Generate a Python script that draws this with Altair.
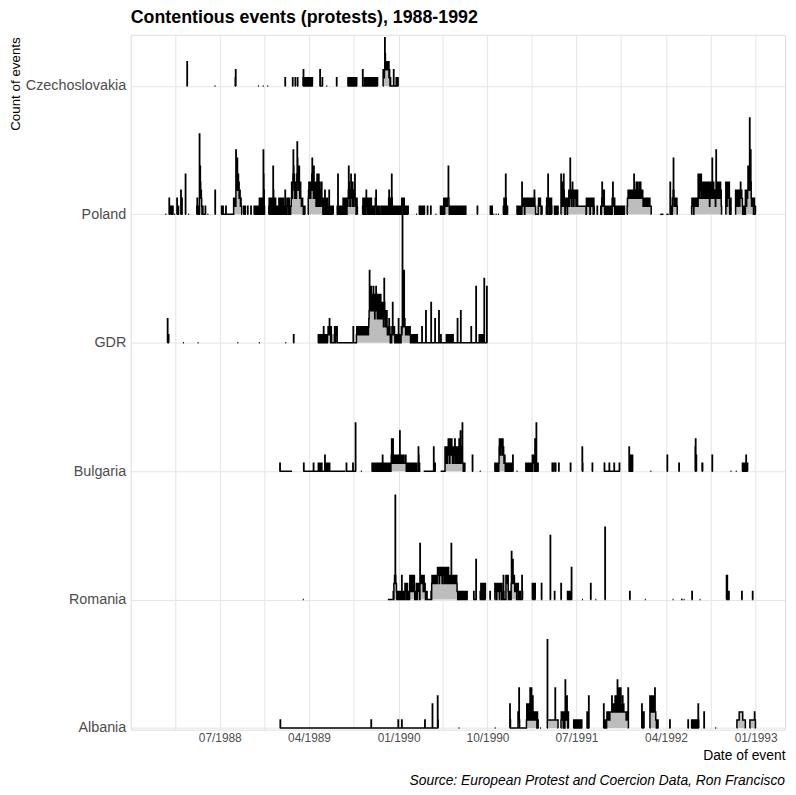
import altair as alt
import pandas as pd
from datetime import date, timedelta, datetime

# ---------------------------------------------------------------------------
# Data: daily counts of contentious events.
# Each run = (first day, daily counts written as base-36 digits, spaces ignored)
# Each span = (first day, last day) where the ridge sits on zero between runs.
# ---------------------------------------------------------------------------
COUNTRIES = ["Czechoslovakia", "Poland", "GDR", "Bulgaria", "Romania", "Albania"]
OFFSETS = {"Czechoslovakia": 80, "Poland": 64, "GDR": 48, "Bulgaria": 32, "Romania": 16, "Albania": 0}

CZ_RUNS = [
    ("1988-03-23", "3"), ("1988-06-16", "00"), ("1988-08-17", "012"),
    ("1988-10-27", "00"), ("1988-11-11", "00"), ("1988-11-25", "00"),
    ("1989-01-18", "1"), ("1989-02-10", "1"), ("1989-02-18", "1"), ("1989-02-25", "1"),
    ("1989-03-14", "1200101101 1010110101 1010110110"),
    ("1989-05-05", "20000001"), ("1989-05-25", "00"), ("1989-06-25", "1"),
    ("1989-07-30", "1011001011 0100110101 1001101"),
    ("1989-09-13", "2000001011 0100110101 1001011010 1101100110 101011"),
    ("1989-11-15", "2121264323 3232322312 1010000000 0020000000 1000010"),
]
CZ_SPANS = []

PL_RUNS = [
    ("1988-01-17", "00"), ("1988-01-28", "2"), ("1988-02-02", "10100110"), ("1988-02-13", "00"),
    ("1988-02-21", "210110"), ("1988-03-04", "3002"), ("1988-03-18", "5"), ("1988-03-27", "00"),
    ("1988-04-22", "12101100 a 4642321011 0000000 1"), ("1988-05-25", "00"), ("1988-06-17", "3"),
    ("1988-07-07", "1000100000 0001000000 0000000000 0000000 2122121867 3754534223 21211"),
    ("1988-09-13", "10101"), ("1988-09-25", "1"), ("1988-10-05", "1"),
    ("1988-10-15", "10110010101 0000 12102101201 00 853 10"),
    ("1988-11-29", "12101211021 10 6 3 0 1 210210110 0100 1201120102110121 0010 3 0101 12110212101 01"),
    ("1989-02-05", "1243235864 5323442359 7463563234 2212121101 001"),
    ("1989-03-30", "2342343243 4574342643 2432142531 4253142121 3412102112 0311012021 0110310100 1100011"),
    ("1989-06-27", "10510011 000010000 120110210112011123 642312352321423123252110121"),
    ("1989-09-13", "1210121102 1321012110 1210112101 0011001012 1310101000 1000001011 0010100110 "
                   "1100001001 2310121025 2101011011 0101101101 1011010110 2122101210 1011010111"),
    ("1990-02-25", "00"), ("1990-03-06", "1010011010010101"), ("1990-03-31", "1"),
    ("1990-04-10", "1"), ("1990-04-25", "00"),
    ("1990-05-10", "1011010110 2101122122 1222621011 0101101010 1101001011 0101011001 0101100101 01100101"),
    ("1990-08-31", "1"), ("1990-10-10", "1011010"), ("1990-10-20", "00"), ("1990-10-27", "00"),
    ("1990-11-03", "00"), ("1990-11-19", "1021101521011"),
    ("1990-12-31", "1011010110 1011042112 1210211212 2212212221 2212221222 2123211000 0000012112 1211011"),
    ("1991-03-31", "12101521101201121"), ("1991-04-25", "10110010101"),
    ("1991-05-15", "5321342153 2102122120 1212321273 2321242321 3232231232 3 "
                   "1111111111111111111111111 1021212112 1210211221 121021"),
    ("1991-09-03", "1"),
    ("1991-09-14", "1012421313 3101000100 1011011011 1001021421 2120000100 1101110111 0111011011101"),
    ("1991-12-04", "1223223223 2232233223 2532322342 3243232342 3432323321 1211212112 1121112112 1111"),
    ("1992-03-15", "000000000"), ("1992-04-03", "000000"),
    ("1992-04-13", "04210010123732122122121"),
    ("1992-06-19", "1211210121 1212112121 5345235435 2342434243 4234324342 3423412342 3237234423 "
                   "2321283234 3423432342 31"),
    ("1992-10-02", "4341244342410102"),
    ("1992-11-01", "3231232313 2312343232 2100010010 3231322363 435c838421 21121012111"),
]
PL_SPANS = []

GDR_RUNS = [
    ("1988-01-23", "3111"), ("1988-03-11", "00"), ("1988-04-25", "00"), ("1988-08-25", "00"),
    ("1988-10-30", "00"), ("1989-01-19", "00"), ("1989-02-13", "1"),
    ("1989-04-30", "1011011011 0110112101 1011011011 2121312102 10"),
    ("1989-06-18", "1210121120"), ("1989-08-15", "2"),
    ("1989-08-25", "1211211211 2121121221 1221212212 2212221234 9564575646 5674563564 7546354653 "
                   "6453645345 4352485342 3234212121 3121011012 1521122101 0101100103 1011010121 "
                   "2g42329232 2122122122 1221210101 1011010101 1010011"),
    ("1990-03-14", "2"), ("1990-03-26", "4"), ("1990-04-11", "5"), ("1990-04-23", "3"),
    ("1990-05-05", "4"), ("1990-05-11", "1"), ("1990-05-28", "101101001011010010101"),
    ("1990-07-01", "3"), ("1990-07-11", "4"), ("1990-08-12", "2"), ("1990-08-27", "7"),
    ("1990-09-06", "10110100101"), ("1990-09-21", "8"), ("1990-09-29", "7"),
]
GDR_SPANS = [("1989-04-29", "1990-09-30")]

BG_RUNS = [
    ("1989-01-02", "1"), ("1989-03-16", "1"), ("1989-04-15", "1"), ("1989-04-30", "10110101101"),
    ("1989-05-20", "201101110111011"), ("1989-07-25", "1"), ("1989-08-14", "1"), ("1989-08-22", "6"),
    ("1989-09-08", "00"),
    ("1989-10-12", "1010010101 0110100110 1011010101 0121010110 1011101101 1101011012 4212421121 "
                   "1211211212 1211251211 2121211211 1112101110 1101101101 1010011010 0100001000 00320100"),
    ("1990-04-19", "30001"),
    ("1990-05-24", "3232132123 4234143243 4231231232 4213231213 2124132521 21361101101"),
    ("1990-08-16", "2"), ("1990-09-08", "00"),
    ("1990-10-24", "1011010110 1013432433 4323423212 2100101000 1001000100 010002"),
    ("1990-12-30", "00"),
    ("1991-01-27", "1011001010 1101001010 2122120041 02610101"),
    ("1991-04-18", "1"), ("1991-04-23", "1"), ("1991-04-28", "1"), ("1991-05-08", "1"),
    ("1991-06-13", "1"), ("1991-07-19", "310"), ("1991-08-19", "1"),
    ("1991-09-25", "1"), ("1991-10-10", "1"), ("1991-10-25", "1"), ("1991-11-10", "1"),
    ("1991-12-10", "30000202002"), ("1992-02-14", "00"), ("1992-04-05", "2"), ("1992-05-11", "1"),
    ("1992-06-30", "3422"), ("1992-07-21", "11"), ("1992-08-21", "2"),
    ("1992-10-17", "00"), ("1992-11-02", "00"), ("1992-11-22", "1001010010121011"),
]
BG_SPANS = [("1989-01-02", "1989-02-08"), ("1989-03-15", "1989-07-22"), ("1989-07-24", "1989-08-22"),
            ("1989-10-12", "1990-03-08"), ("1990-03-19", "1990-04-25"), ("1990-05-10", "1990-07-23"),
            ("1990-10-24", "1990-12-18"), ("1991-01-27", "1991-03-05"), ("1991-09-25", "1991-11-10")]

RO_RUNS = [
    ("1989-03-14", "00"),
    ("1989-12-14", "00102232d3 2210100100 1010110031 0101001022 1220210101 1023132313 2331233101 "
                   "0112102112 1210723233 2323123212 1010110000 0000000010 2323233232 3233232343 "
                   "4342434434 3423434423 4342334323 3432332332 7232332323 2323223211 0100001000 "
                   "0101101010 1011001010"),
    ("1990-08-20", "10000005"), ("1990-09-09", "1021012101120112"), ("1990-10-09", "1"),
    ("1990-10-24", "2122102212 2122021221 2011003100 0000323323 3101001010 2632253223 2122122021 "
                   "2210100100 00031"),
    ("1991-02-16", "212102122"), ("1991-03-16", "2"), ("1991-04-12", "8"), ("1991-04-25", "1"),
    ("1991-05-15", "2"), ("1991-06-04", "1011010010104"), ("1991-07-19", "00"), ("1991-08-14", "2"),
    ("1991-08-29", "00"), ("1991-09-27", "9"), ("1991-12-12", "1"), ("1992-01-28", "00"),
    ("1992-04-22", "00"), ("1992-05-18", "0000"), ("1992-05-26", "00"), ("1992-06-20", "1"),
    ("1992-07-14", "00"), ("1992-10-04", "33301001"), ("1992-11-20", "1"), ("1992-12-23", "1"),
]
RO_SPANS = [("1989-11-29", "1990-07-31"), ("1990-10-24", "1991-01-16")]

AL_RUNS = [
    ("1989-01-03", "1"), ("1989-10-09", "1"), ("1989-12-31", "1"), ("1990-01-11", "1"),
    ("1990-03-23", "1"), ("1990-04-15", "3"), ("1990-05-01", "41"),
    ("1990-07-05", "00"), ("1990-10-24", "00"),
    ("1990-12-09", "31"), ("1991-01-03", "21151"),
    ("1991-01-29", "1321321232 1524154214 2122122121 210201"),
    ("1991-03-12", "00"),
    ("1991-04-03", "b 11111111111111111111111 5 11111111"),
    ("1991-05-15", "12112210121016212142102"),
    ("1991-06-23", "1011011101101011011101101"),
    ("1991-08-03", "200004"),
    ("1991-09-23", "3100100001 2122122212 2222242322 3232342323 4263523524 3253232242 2322222221 212225"),
    ("1992-01-18", "3121012"),
    ("1992-02-12", "4423442443422235221101101"),
    ("1992-04-13", "1"), ("1992-06-08", "1"),
    ("1992-06-19", "1010110101101011 0000 31"),
    ("1992-07-27", "2"), ("1992-08-31", "00"),
    ("1992-11-05", "1111111 22222222222 11111111"),
    ("1992-12-15", "11111111111111 2 11"),
]
AL_SPANS = [("1989-01-03", "1990-05-02"), ("1990-12-08", "1991-03-06")]

DATA = [
    ("Czechoslovakia", CZ_RUNS, CZ_SPANS),
    ("Poland", PL_RUNS, PL_SPANS),
    ("GDR", GDR_RUNS, GDR_SPANS),
    ("Bulgaria", BG_RUNS, BG_SPANS),
    ("Romania", RO_RUNS, RO_SPANS),
    ("Albania", AL_RUNS, AL_SPANS),
]

MAJOR_TICKS = ["1988-07-01", "1989-04-01", "1990-01-01", "1990-10-01", "1991-07-01", "1992-04-01", "1993-01-01"]
MINOR_TICKS = ["1988-02-15", "1988-11-15", "1989-08-16", "1990-05-17", "1991-02-14", "1991-11-15", "1992-08-16"]

TITLE = "Contentious events (protests), 1988-1992"
CAPTION = "Source: European Protest and Coercion Data, Ron Francisco"


def expand(runs, spans):
    vals, covered = {}, set()
    for start, digits in runs:
        d0 = date.fromisoformat(start)
        s = digits.replace(" ", "")
        for i, ch in enumerate(s):
            vals[d0 + timedelta(days=i)] = int(ch, 36)
        for i in range(-1, len(s) + 1):
            covered.add(d0 + timedelta(days=i))
    for a, b in spans:
        d, e = date.fromisoformat(a), date.fromisoformat(b)
        while d <= e:
            covered.add(d)
            d += timedelta(days=1)
    out, seg, prev = [], 0, None
    for d in sorted(covered):
        if prev is not None and (d - prev).days > 1:
            seg += 1
        out.append((d, vals.get(d, 0), seg))
        prev = d
    return out


rows = []
for country, runs, spans in DATA:
    off = OFFSETS[country]
    for d, v, k in expand(runs, spans):
        rows.append({"date": d.isoformat(), "country": country, "seg": f"{country}-{k}",
                     "top": off + v, "base": off})
df = pd.DataFrame(rows)


def dt(s):
    d = date.fromisoformat(s)
    return alt.DateTime(year=d.year, month=d.month, date=d.day, utc=True)


# ggplot-like 5 % expansion of the date range 1988-01-01 .. 1992-12-31
d_lo, d_hi = datetime(1988, 1, 1), datetime(1992, 12, 31)
pad = (d_hi - d_lo) * 0.05
lo, hi = d_lo - pad, d_hi + pad
x_domain = [alt.DateTime(year=lo.year, month=lo.month, date=lo.day, hours=lo.hour, minutes=lo.minute, utc=True),
            alt.DateTime(year=hi.year, month=hi.month, date=hi.day, hours=hi.hour, minutes=hi.minute, utc=True)]

FONT = "Liberation Sans"
W, H = 661, 702

x_axis = alt.Axis(
    values=[dt(s) for s in MAJOR_TICKS + MINOR_TICKS],
    labelExpr="utcFormat(datum.value, '%d') == '01' ? utcFormat(datum.value, '%m/%Y') : ''",
    grid=True, gridColor="#e5e5e5", gridWidth=1, ticks=False, domain=False,
    labelFontSize=12, labelColor="#4d4d4d", labelPadding=3, labelFont=FONT,
    title="Date of event", titleFontSize=14, titleColor="black", titleFont=FONT,
    titleFontWeight="normal", titleX=W, titleY=30, titleAlign="right", titleBaseline="alphabetic",
)
y_axis = alt.Axis(
    values=[0, 16, 32, 48, 64, 80],
    labelExpr="['Albania','Romania','Bulgaria','GDR','Poland','Czechoslovakia'][datum.value / 16]",
    grid=True, gridColor="#e5e5e5", gridWidth=1, ticks=False, domain=False,
    labelFontSize=14.5, labelColor="#4d4d4d", labelPadding=5, labelFont=FONT,
    title="Count of events", titleFontSize=13.5, titleColor="black", titleFont=FONT,
    titleFontWeight="normal", titleAngle=270, titleX=-123, titleY=2,
    titleAlign="right", titleBaseline="top",
)

base = alt.Chart(df).encode(
    x=alt.X("date:T", scale=alt.Scale(type="utc", domain=x_domain, nice=False), axis=x_axis),
    y=alt.Y("top:Q", scale=alt.Scale(domain=[-0.2, 86.37], nice=False, zero=False), axis=y_axis),
    y2="base:Q",
    detail="seg:N",
)

areas = [
    base.transform_filter(alt.datum.country == c).mark_area(
        interpolate="step", color="#bdbdbd", opacity=1,
        line={"color": "black", "strokeWidth": 1.5},
    )
    for c in COUNTRIES
]

caption = alt.Chart(pd.DataFrame({"t": [CAPTION]})).mark_text(
    align="right", baseline="alphabetic", fontStyle="italic", fontSize=14, font=FONT, color="black"
).encode(text="t:N", x=alt.value(W), y=alt.value(758))

chart = alt.layer(*areas, caption).properties(
    width=W, height=H,
    title=alt.TitleParams(TITLE, anchor="start", frame="group", fontSize=18, fontWeight="bold",
                          color="black", font=FONT, offset=8),
    autosize=alt.AutoSizeParams(type="none"),
    padding={"left": 124, "top": 23, "right": 3, "bottom": 62},
).configure_view(stroke=None).configure(background="white")

chart.save("out.html", embed_options={"renderer": "svg", "actions": False})
